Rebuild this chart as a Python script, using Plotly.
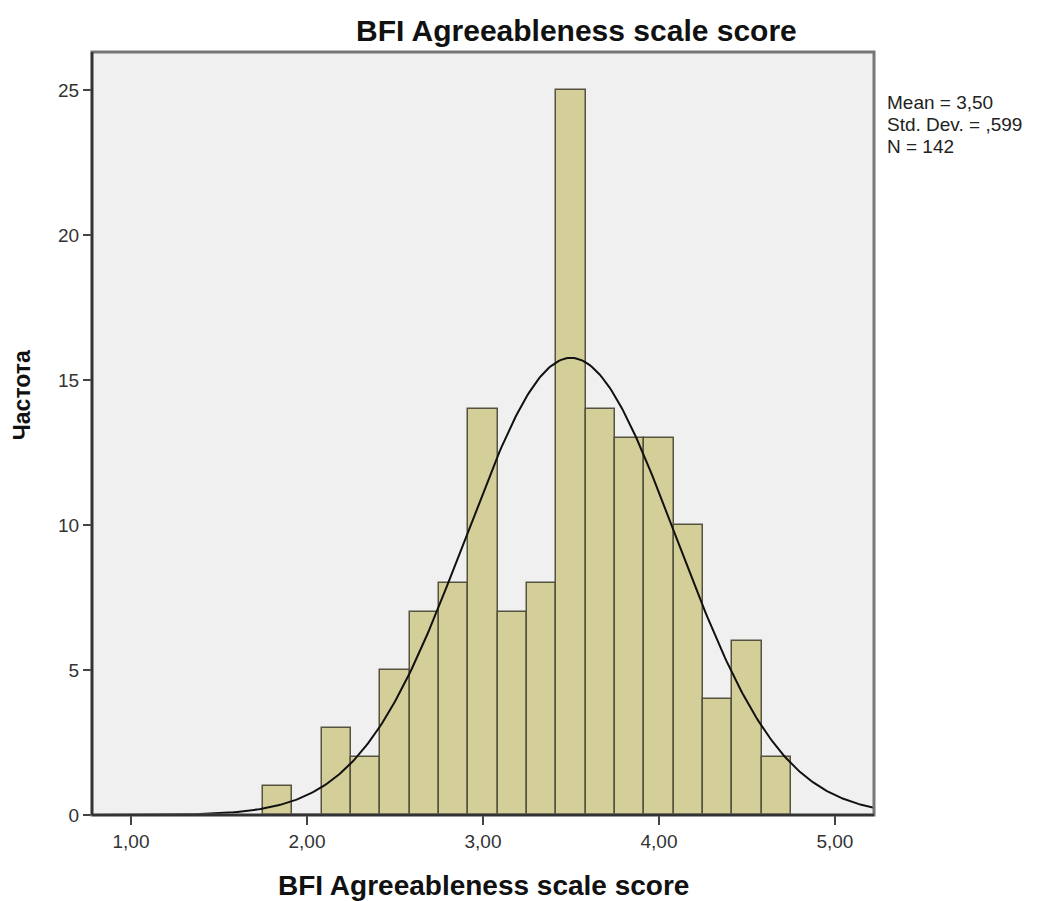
import numpy as np
import plotly.graph_objs as go

# histogram data (bin width 1/6, first edge 1.75)
bin_start = 1.75
bin_width = 1 / 6
counts = [1, 0, 3, 2, 5, 7, 8, 14, 7, 8, 25, 14, 13, 13, 10, 4, 6, 2]

mean = 3.50
std_dev = 0.599
n_total = 142

x_tick_vals = [1, 2, 3, 4, 5]
x_tick_text = ["1,00", "2,00", "3,00", "4,00", "5,00"]
y_tick_vals = [0, 5, 10, 15, 20, 25]
stats_lines = ["Mean = 3,50", "Std. Dev. = ,599", "N = 142"]

centers = [bin_start + bin_width * (i + 0.5) for i in range(len(counts))]

# normal curve as SPSS draws it
xs = np.linspace(0.7784, 5.222, 400)
ys = n_total * bin_width / (std_dev * np.sqrt(2 * np.pi)) * np.exp(-0.5 * ((xs - mean) / std_dev) ** 2)

fig = go.Figure()
fig.add_trace(go.Bar(x=centers, y=counts, width=bin_width,
                     marker=dict(color="#D4CF98", line=dict(color="#55533F", width=1.5)),
                     hoverinfo="x+y"))
fig.add_trace(go.Scatter(x=xs, y=ys, mode="lines", line=dict(color="#111111", width=2),
                         hoverinfo="skip"))

font = "Arial, Liberation Sans, sans-serif"
# page body has an 8px margin, so the figure is 8px smaller than the window
fig.update_layout(
    width=1030, height=893,
    margin=dict(l=84, r=164, t=44, b=86),
    paper_bgcolor="white", plot_bgcolor="#F0F0F0",
    showlegend=False, bargap=0,
    font=dict(family=font, color="#333333", size=19),
    xaxis=dict(range=[0.7784, 5.222], tickvals=x_tick_vals, ticktext=x_tick_text,
               ticks="outside", ticklen=9, tickwidth=2, tickcolor="#444444",
               showgrid=False, zeroline=False, showline=False,
               tickfont=dict(size=19, color="#333333")),
    yaxis=dict(range=[0, 26.31], tickvals=y_tick_vals,
               ticks="outside", ticklen=8, tickwidth=2, tickcolor="#444444",
               showgrid=False, zeroline=False, showline=False,
               tickfont=dict(size=19, color="#333333")),
)

# frame: gray top/right, dark left/bottom
fig.add_shape(type="rect", xref="paper", yref="paper", x0=0, y0=0, x1=1, y1=1,
              line=dict(color="#777777", width=3), layer="above")
fig.add_shape(type="line", xref="paper", yref="paper", x0=0, y0=0, x1=0, y1=1,
              line=dict(color="#333333", width=2.5), layer="above")
fig.add_shape(type="line", xref="paper", yref="paper", x0=0, y0=0, x1=1, y1=0,
              line=dict(color="#333333", width=2.5), layer="above")

fig.add_annotation(text="<b>BFI Agreeableness scale score</b>", xref="paper", yref="paper",
                   x=0.619, y=1, yshift=22, xanchor="center", yanchor="middle",
                   showarrow=False, font=dict(size=30, color="#111111", family=font))
fig.add_annotation(text="<b>BFI Agreeableness scale score</b>", xref="paper", yref="paper",
                   x=0.5, y=0, yshift=-70, xanchor="center", yanchor="middle",
                   showarrow=False, font=dict(size=28, color="#111111", family=font))
fig.add_annotation(text="<b>Частота</b>", xref="paper", yref="paper",
                   x=0, xshift=-70, y=0.55, textangle=-90, xanchor="center", yanchor="middle",
                   showarrow=False, font=dict(size=23, color="#111111", family=font))
for i, line in enumerate(stats_lines):
    fig.add_annotation(text=line, xref="paper", yref="paper",
                       x=1, xshift=11, y=1, yshift=-50 - 22 * i, xanchor="left", yanchor="middle",
                       showarrow=False, font=dict(size=19, color="#222222", family=font))

fig.write_html("out.html")
